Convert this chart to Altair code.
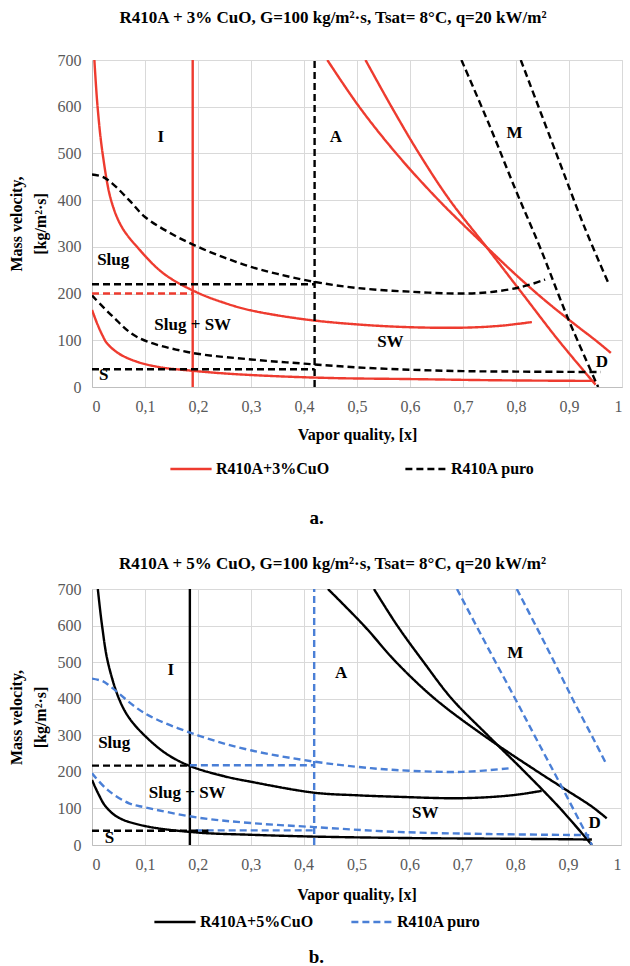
import altair as alt
import pandas as pd

SERIF = "'Liberation Serif', 'Times New Roman', 'DejaVu Serif', serif"

# ---------------- Panel a: R410A + 3% CuO (red solid) vs R410A puro (black dashed)
a_title = "R410A + 3% CuO, G=100 kg/m²·s, Tsat= 8°C, q=20 kW/m²"
a_series = ["R410A+3%CuO", "R410A puro"]
a_colors = ["#ee3b2f", "#000000"]

a_nf_top_x = [0.0045, 0.0105, 0.02, 0.036, 0.056, 0.085, 0.135, 0.197, 0.25, 0.3, 0.4, 0.5, 0.6, 0.7, 0.77, 0.83]
a_nf_top_G = [700, 600, 500, 400, 343, 300, 243, 203, 180, 164, 145, 134, 128, 127, 131, 139]
a_nf_low_x = [0.0, 0.01, 0.02, 0.028, 0.05, 0.085, 0.13, 0.178, 0.25, 0.35, 0.46, 0.6, 0.72, 0.8, 0.95]
a_nf_low_G = [165, 135, 110, 94, 72, 54, 42, 36, 29, 23, 19, 17, 15, 14, 13]
a_nf_vert_x = [0.19, 0.19]
a_nf_vert_G = [0, 700]
a_nf_dash_x = [0.0, 0.19]
a_nf_dash_G = [200, 200]
a_nf_straight_x = [0.516, 0.565, 0.617, 0.675, 0.744, 0.812, 0.88, 0.95]
a_nf_straight_G = [700, 600, 500, 400, 300, 200, 100, 5]
a_nf_curved_x = [0.444, 0.504, 0.574, 0.654, 0.744, 0.80, 0.854, 0.91, 0.95, 0.979]
a_nf_curved_G = [700, 600, 500, 400, 300, 240, 186, 135, 100, 73]

a_pure_top_x = [0.0, 0.02, 0.038, 0.07, 0.1, 0.15, 0.2, 0.25, 0.3, 0.35, 0.42, 0.5, 0.6, 0.7, 0.75, 0.81, 0.855]
a_pure_top_G = [455, 450, 436, 400, 364, 328, 300, 277, 257, 242, 225, 212, 204, 200, 203, 214, 230]
a_pure_h220_x = [0.0, 0.42]
a_pure_h220_G = [220, 220]
a_pure_vert_x = [0.42, 0.42]
a_pure_vert_G = [0, 700]
a_pure_low_x = [0.0, 0.04, 0.085, 0.18, 0.3, 0.4, 0.5, 0.6, 0.7, 0.8, 0.96]
a_pure_low_G = [196, 150, 107, 75, 59, 50, 42, 37, 34, 33, 32]
a_pure_h38_x = [0.0, 0.42]
a_pure_h38_G = [38, 38]
a_pure_mleft_x = [0.697, 0.75, 0.8, 0.845, 0.897, 0.955]
a_pure_mleft_G = [700, 560, 420, 300, 150, 0]
a_pure_mright_x = [0.809, 0.876, 0.93, 0.976]
a_pure_mright_G = [700, 500, 340, 218]

a_lab_text = ["I", "A", "M", "Slug", "Slug + SW", "SW", "S", "D"]
a_lab_x = [0.13, 0.46, 0.797, 0.04, 0.19, 0.563, 0.022, 0.962]
a_lab_G = [536, 536, 543, 271, 132, 96, 25, 54]

# ---------------- Panel b: R410A + 5% CuO (black solid) vs R410A puro (blue dashed)
b_title = "R410A + 5% CuO, G=100 kg/m²·s, Tsat= 8°C, q=20 kW/m²"
b_series = ["R410A+5%CuO", "R410A puro"]
b_colors = ["#000000", "#4a7fd6"]

b_nf_top_x = [0.011, 0.019, 0.03, 0.051, 0.07, 0.099, 0.14, 0.185, 0.25, 0.3, 0.42, 0.5, 0.574, 0.7, 0.794, 0.85]
b_nf_top_G = [700, 600, 500, 400, 348, 300, 250, 216, 188, 173, 143, 136, 132, 128, 136, 148]
b_nf_low_x = [0.0, 0.012, 0.026, 0.05, 0.1, 0.2, 0.3, 0.42, 0.6, 0.8, 0.945]
b_nf_low_G = [178, 140, 105, 75, 52, 34, 28, 23, 19, 17, 15]
b_nf_vert_x = [0.185, 0.185]
b_nf_vert_G = [0, 700]
b_nf_h218_x = [0.0, 0.185]
b_nf_h218_G = [217, 217]
b_nf_h40_x = [0.0, 0.22]
b_nf_h40_G = [39, 39]
b_nf_straight_x = [0.533, 0.577, 0.627, 0.68, 0.748, 0.818, 0.885, 0.945]
b_nf_straight_G = [700, 600, 500, 400, 300, 200, 100, 0]
b_nf_curved_x = [0.446, 0.514, 0.575, 0.648, 0.74, 0.843, 0.897, 0.945, 0.973]
b_nf_curved_G = [700, 600, 500, 400, 300, 200, 150, 105, 73]

b_pure_top_x = [0.0, 0.02, 0.036, 0.1, 0.2, 0.3, 0.42, 0.5, 0.574, 0.7, 0.79]
b_pure_top_G = [455, 448, 432, 360, 300, 259, 228, 214, 205, 200, 210]
b_pure_h218_x = [0.185, 0.42]
b_pure_h218_G = [218, 218]
b_pure_vert_x = [0.42, 0.42]
b_pure_vert_G = [0, 700]
b_pure_low_x = [0.0, 0.03, 0.07, 0.1, 0.2, 0.3, 0.42, 0.574, 0.75, 0.94]
b_pure_low_G = [196, 150, 114, 103, 75, 60, 49, 36, 30, 27]
b_pure_h40_x = [0.196, 0.42]
b_pure_h40_G = [40, 40]
b_pure_mleft_x = [0.69, 0.75, 0.8, 0.841, 0.888, 0.945]
b_pure_mleft_G = [700, 535, 400, 287, 159, 0]
b_pure_mright_x = [0.803, 0.86, 0.91, 0.949, 0.973]
b_pure_mright_G = [700, 540, 395, 287, 219]

b_lab_text = ["I", "A", "M", "Slug", "Slug + SW", "SW", "S", "D"]
b_lab_x = [0.149, 0.471, 0.80, 0.042, 0.18, 0.63, 0.033, 0.95]
b_lab_G = [478, 470, 524, 279, 142, 87, 19, 60]


def seg(name, series, xs, gs):
    return pd.DataFrame({"x": xs, "G": gs, "seg": name, "series": series, "order": range(len(xs))})


a_main = pd.concat([
    seg("a1", a_series[0], a_nf_top_x, a_nf_top_G),
    seg("a2", a_series[0], a_nf_low_x, a_nf_low_G),
    seg("a3", a_series[0], a_nf_vert_x, a_nf_vert_G),
    seg("a4", a_series[0], a_nf_straight_x, a_nf_straight_G),
    seg("a5", a_series[0], a_nf_curved_x, a_nf_curved_G),
    seg("a6", a_series[1], a_pure_top_x, a_pure_top_G),
    seg("a7", a_series[1], a_pure_h220_x, a_pure_h220_G),
    seg("a8", a_series[1], a_pure_vert_x, a_pure_vert_G),
    seg("a9", a_series[1], a_pure_low_x, a_pure_low_G),
    seg("a10", a_series[1], a_pure_h38_x, a_pure_h38_G),
    seg("a11", a_series[1], a_pure_mleft_x, a_pure_mleft_G),
    seg("a12", a_series[1], a_pure_mright_x, a_pure_mright_G),
])
a_extra = pd.concat([seg("ax1", a_series[0], a_nf_dash_x, a_nf_dash_G)])
a_labels = pd.DataFrame({"x": a_lab_x, "G": a_lab_G, "t": a_lab_text})

b_main = pd.concat([
    seg("b1", b_series[0], b_nf_top_x, b_nf_top_G),
    seg("b2", b_series[0], b_nf_low_x, b_nf_low_G),
    seg("b3", b_series[0], b_nf_vert_x, b_nf_vert_G),
    seg("b4", b_series[0], b_nf_straight_x, b_nf_straight_G),
    seg("b5", b_series[0], b_nf_curved_x, b_nf_curved_G),
    seg("b6", b_series[1], b_pure_top_x, b_pure_top_G),
    seg("b7", b_series[1], b_pure_h218_x, b_pure_h218_G),
    seg("b8", b_series[1], b_pure_vert_x, b_pure_vert_G),
    seg("b9", b_series[1], b_pure_low_x, b_pure_low_G),
    seg("b10", b_series[1], b_pure_h40_x, b_pure_h40_G),
    seg("b11", b_series[1], b_pure_mleft_x, b_pure_mleft_G),
    seg("b12", b_series[1], b_pure_mright_x, b_pure_mright_G),
])
b_extra = pd.concat([
    seg("bx1", b_series[0], b_nf_h218_x, b_nf_h218_G),
    seg("bx2", b_series[0], b_nf_h40_x, b_nf_h40_G),
])
b_labels = pd.DataFrame({"x": b_lab_x, "G": b_lab_G, "t": b_lab_text})

DASH = [7, 4]
X_LABEL_EXPR = "datum.value == 0 ? '0' : (datum.value == 1 ? '1' : replace(format(datum.value, '.1f'), '.', ','))"


def panel(title, series, colors, main, extra, labels, caption, w, h, legx, legy, colpad, extra_color,
          cap_y, title_off, xtitle_pad):
    xaxis = alt.Axis(values=[i / 10 for i in range(11)], labelExpr=X_LABEL_EXPR, labelOverlap=False,
                     title="Vapor quality, [x]", titlePadding=xtitle_pad)
    yaxis = alt.Axis(values=list(range(0, 701, 100)), labelOverlap=False,
                     title=["Mass velocity,", "[kg/m²·s]"], titlePadding=9, titleLineHeight=24)
    xenc = alt.X("x:Q", scale=alt.Scale(domain=[0, 1], nice=False), axis=xaxis)
    yenc = alt.Y("G:Q", scale=alt.Scale(domain=[0, 700], nice=False), axis=yaxis)
    leg = alt.Legend(title=None, orient="none", legendX=legx, legendY=legy, direction="horizontal",
                     symbolType="stroke", symbolSize=1700, symbolStrokeWidth=2.5,
                     labelFont=SERIF, labelFontSize=16, labelFontWeight="bold", labelColor="#000",
                     labelOffset=3, columnPadding=colpad)
    lines = alt.Chart(main).mark_line(strokeWidth=2.4, interpolate="catmull-rom", clip=True).encode(
        x=xenc, y=yenc, detail="seg:N", order="order:Q",
        color=alt.Color("series:N", scale=alt.Scale(domain=series, range=colors), legend=leg),
        strokeDash=alt.StrokeDash("series:N", scale=alt.Scale(domain=series, range=[[1, 0], DASH]), legend=leg),
    )
    extra_l = alt.Chart(extra).mark_line(strokeWidth=2.4, strokeDash=DASH, color=extra_color, clip=True).encode(
        x=xenc, y=yenc, detail="seg:N", order="order:Q")
    texts = alt.Chart(labels).mark_text(font=SERIF, fontSize=17, fontWeight="bold", color="#000").encode(
        x=xenc, y=yenc, text="t:N")
    cap = alt.Chart(pd.DataFrame({"t": [caption]})).mark_text(
        font=SERIF, fontSize=19, fontWeight="bold", color="#000").encode(
        x=alt.value(w * 0.424), y=alt.value(h + cap_y), text="t:N")
    return alt.layer(lines, extra_l, texts, cap).properties(
        width=w, height=h,
        title=alt.TitleParams(title, font=SERIF, fontSize=17, fontWeight="bold", color="#000",
                              anchor="middle", dx=-24, offset=title_off),
    )


pa = panel(a_title, a_series, a_colors, a_main, a_extra, a_labels, "a.", 530, 327, 77, 387, 70, a_colors[0],
           131, 25, 12)
pb = panel(b_title, b_series, b_colors, b_main, b_extra, b_labels, "b.", 529, 256, 61, 311, 32, b_colors[0],
           112, 8, 14)

chart = alt.vconcat(pa, pb, spacing=25).resolve_scale(color="independent", strokeDash="independent").properties(
    padding={"left": 7, "right": 0, "top": 8, "bottom": 0}
).configure_view(stroke="#d9d9d9").configure_axis(
    grid=True, gridColor="#d9d9d9", gridWidth=1, domainColor="#bfbfbf", ticks=False, labelOverlap=False,
    labelFont=SERIF, labelFontSize=16, labelColor="#595959", labelPadding=11,
    titleFont=SERIF, titleFontSize=16, titleFontWeight="bold", titleColor="#000",
).configure_legend(symbolStrokeWidth=2.5)

chart.save("out.html", embed_options={"renderer": "svg", "actions": False})
